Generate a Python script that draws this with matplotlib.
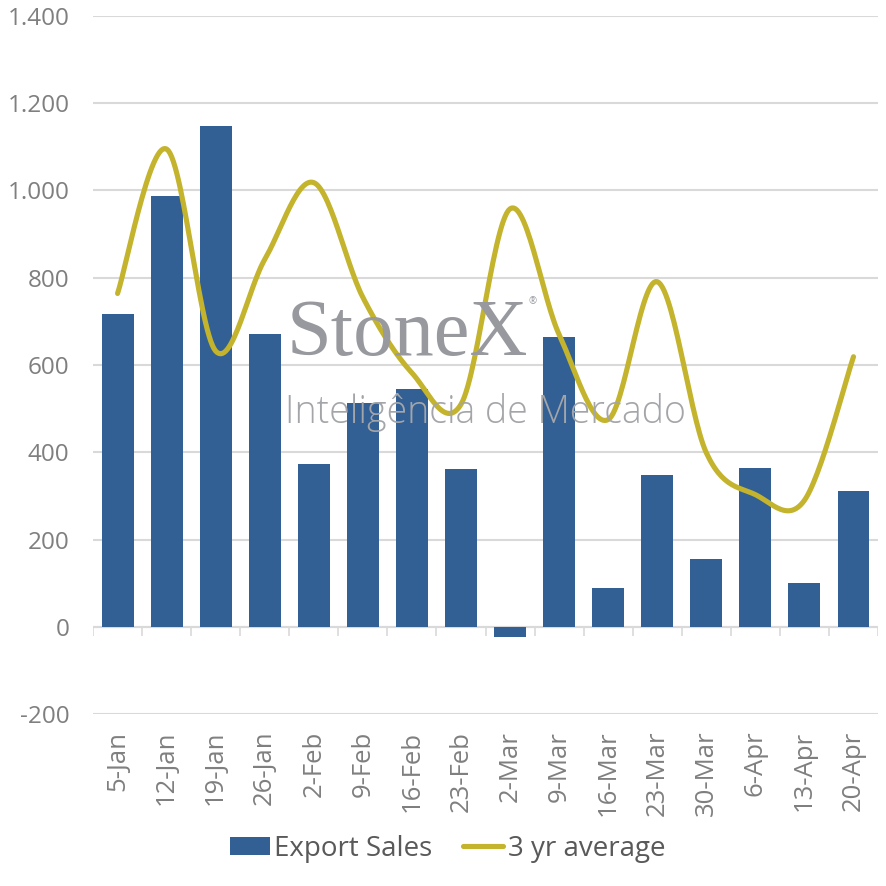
import numpy as np
import matplotlib
matplotlib.use('Agg')
import matplotlib.pyplot as plt
from matplotlib.ticker import FuncFormatter

weeks = ['5-Jan', '12-Jan', '19-Jan', '26-Jan', '2-Feb', '9-Feb', '16-Feb', '23-Feb',
         '2-Mar', '9-Mar', '16-Mar', '23-Mar', '30-Mar', '6-Apr', '13-Apr', '20-Apr']
export_sales = [716, 988, 1147, 670, 374, 514, 546, 362, -23, 665, 89, 349, 156, 365, 101, 312]
avg_3yr = [764, 1095, 632, 842, 1018, 755, 582, 510, 958, 670, 475, 791, 399, 303, 290, 619]

BAR_COLOR = '#326094'
LINE_COLOR = '#C4B32C'
TICK_COLOR = '#7F7F7F'
GRID_COLOR = '#D9D9D9'
MARK_COLOR = '#97999E'


def smooth(xs, ys, steps=30):
    # bezier smoothing like excel's "smoothed line"
    x = np.asarray(xs, float)
    y = np.asarray(ys, float)
    px = np.concatenate([[x[0]], x, [x[-1]]])
    py = np.concatenate([[y[0]], y, [y[-1]]])
    t = np.linspace(0, 1, steps)[:, None]
    outx, outy = [], []
    for i in range(1, len(px) - 2):
        p0 = np.array([px[i], py[i]])
        p3 = np.array([px[i + 1], py[i + 1]])
        c1 = p0 + (p3 - np.array([px[i - 1], py[i - 1]])) / 6
        c2 = p3 - (np.array([px[i + 2], py[i + 2]]) - p0) / 6
        pts = ((1 - t) ** 3) * p0 + 3 * ((1 - t) ** 2) * t * c1 + 3 * (1 - t) * t ** 2 * c2 + t ** 3 * p3
        outx.append(pts[:, 0])
        outy.append(pts[:, 1])
    return np.concatenate(outx), np.concatenate(outy)


plt.rcParams['font.family'] = ['Open Sans', 'DejaVu Sans']

fig = plt.figure(figsize=(8.86, 8.86), dpi=100)
ax = fig.add_axes([0.105, 0.194, 0.886, 0.788])

x = np.arange(len(weeks))
bars = ax.bar(x, export_sales, width=0.65, color=BAR_COLOR, zorder=3, label='Export Sales')
sx, sy = smooth(x, avg_3yr)
line, = ax.plot(sx, sy, color=LINE_COLOR, lw=3.7, solid_capstyle='round', zorder=4,
                label='3 yr average')

ax.set_ylim(-200, 1400)
ax.set_xlim(-0.5, len(weeks) - 0.5)
ax.set_yticks(np.arange(-200, 1401, 200))
ax.yaxis.set_major_formatter(FuncFormatter(lambda v, p: f'{int(v):,}'.replace(',', '.')))
ax.grid(axis='y', color=GRID_COLOR, lw=1.5, zorder=0)
for s in ax.spines.values():
    s.set_visible(False)

# category axis at zero with boundary ticks
ax.axhline(0, color=GRID_COLOR, lw=1.5, zorder=2)
ax.vlines(np.arange(len(weeks) + 1) - 0.5, -21, 0, color=GRID_COLOR, lw=1.2, zorder=2)

ax.set_xticks(x)
ax.set_xticklabels(weeks, rotation=90)
ax.tick_params(axis='x', length=0, pad=12, labelsize=18.5, labelcolor=TICK_COLOR)
ax.tick_params(axis='y', length=0, pad=17, labelsize=17.5, labelcolor=TICK_COLOR)

# watermark
fig.text(0.323, 0.599, 'StoneX', fontsize=58, family=['Liberation Serif', 'DejaVu Serif'],
         color=MARK_COLOR, zorder=1, va='baseline')
fig.text(0.597, 0.657, '®', fontsize=7, color=MARK_COLOR, zorder=1)
fig.text(0.322, 0.523, 'Inteligência de Mercado', fontsize=27, color='#A3A5A9',
         zorder=1, va='baseline', fontweight='light')

leg = fig.legend(handles=[bars, line], loc='lower center', bbox_to_anchor=(0.505, -0.002),
                 ncol=2, frameon=False, prop={'size': 20},
                 handlelength=1.45, handleheight=0.6, handletextpad=0.15, columnspacing=1.1)
for t in leg.get_texts():
    t.set_color('#595959')

fig.savefig('out.png', dpi=100)
